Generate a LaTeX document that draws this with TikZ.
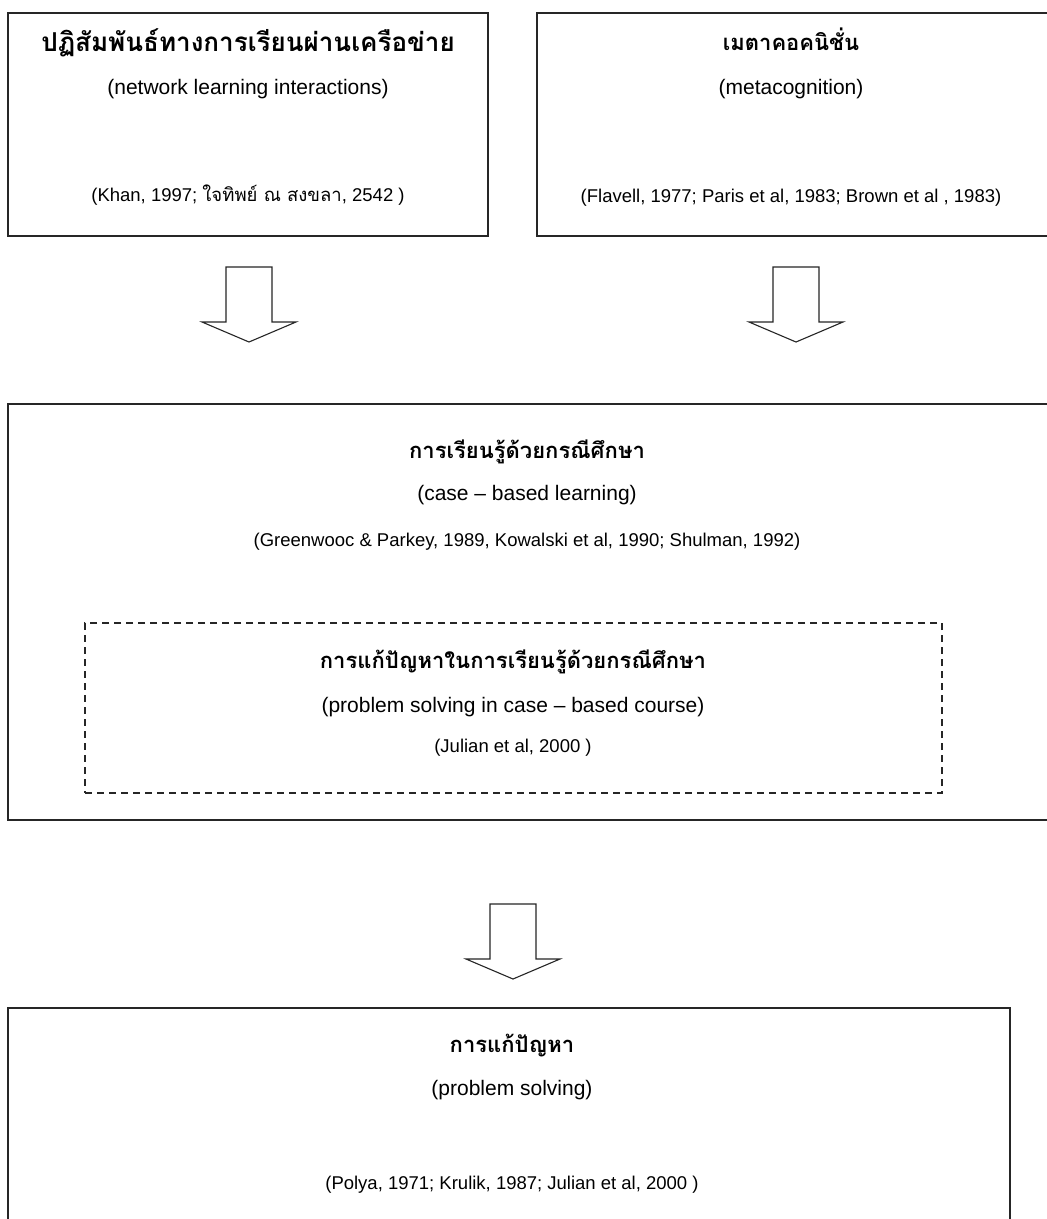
\documentclass[tikz,border=0pt]{standalone}
\usepackage{fontspec}
\setmainfont{Liberation Sans}
\newfontfamily\thai[Script=Thai]{Loma}
\begin{document}
\begin{tikzpicture}[x=1pt,y=-1pt,
  frame/.style={draw=black!85,line width=1.5pt,rectangle,inner sep=0pt},
  dashframe/.style={draw=black!85,line width=1.5pt,dash pattern=on 7pt off 5pt,rectangle,inner sep=0pt},
  thaihead/.style={anchor=base,inner sep=0pt,font=\thai\bfseries\fontsize{22}{26}\selectfont},
  bigthaihead/.style={thaihead,font=\thai\bfseries\fontsize{26}{30}\selectfont},
  enghead/.style={anchor=base,inner sep=0pt,font=\fontsize{21}{25}\selectfont},
  citetext/.style={anchor=base,inner sep=0pt,font=\fontsize{18.5}{22}\selectfont},
  blockarrow/.pic={
    \draw[line width=1.1pt,black!85,line join=miter]
      (-23,0) -- (23,0) -- (23,55) -- (47,55) -- (0,75) -- (-47,55) -- (-23,55) -- cycle;
  }]
\clip (0,0) rectangle (1047,1219);
\fill[white] (0,0) rectangle (1047,1219);

% framed boxes
\node[frame,minimum width=480pt,minimum height=223pt] (b1) at (248,124.5) {};
\node[frame,minimum width=520pt,minimum height=223pt] (b2) at (797,124.5) {};
\node[frame,minimum width=1050pt,minimum height=416pt] (b3) at (533,612) {};
\node[dashframe,minimum width=857pt,minimum height=170pt] (d1) at (513.5,708) {};
\node[frame,minimum width=1002pt,minimum height=230pt] (b4) at (509,1123) {};

% box 1
\node[bigthaihead] (t1) at (248,51) {ปฏิสัมพันธ์ทางการเรียนผ่านเครือข่าย};
\node[enghead] (e1) at (248,94) {(network learning interactions)};
\node[citetext] (c1) at (248,201) {(Khan, 1997; {\thai ใจทิพย์ ณ สงขลา}, 2542 )};

% box 2
\node[thaihead] (t2) at (791,50) {เมตาคอคนิชั่น};
\node[enghead] (e2) at (791,94) {(metacognition)};
\node[citetext] (c2) at (791,202) {(Flavell, 1977; Paris et al, 1983; Brown et al , 1983)};

% box 3
\node[thaihead] (t3) at (527,458) {การเรียนรู้ด้วยกรณีศึกษา};
\node[enghead] (e3) at (527,500) {(case – based learning)};
\node[citetext] (c3) at (527,546) {(Greenwooc \& Parkey, 1989, Kowalski et al, 1990; Shulman, 1992)};

% dashed inner box
\node[thaihead] (t4) at (513,668) {การแก้ปัญหาในการเรียนรู้ด้วยกรณีศึกษา};
\node[enghead] (e4) at (513,712) {(problem solving in case – based course)};
\node[citetext] (c4) at (513,752) {(Julian et al, 2000 )};

% box 4
\node[thaihead] (t5) at (512,1052) {การแก้ปัญหา};
\node[enghead] (e5) at (512,1095) {(problem solving)};
\node[citetext] (c5) at (512,1189) {(Polya, 1971; Krulik, 1987; Julian et al, 2000 )};

% block arrows between the boxes
\coordinate (a1) at (249,267);
\coordinate (a2) at (796,267);
\coordinate (a3) at (513,904);
\pic at (a1) {blockarrow};
\pic at (a2) {blockarrow};
\pic at (a3) {blockarrow};
\end{tikzpicture}
\end{document}
